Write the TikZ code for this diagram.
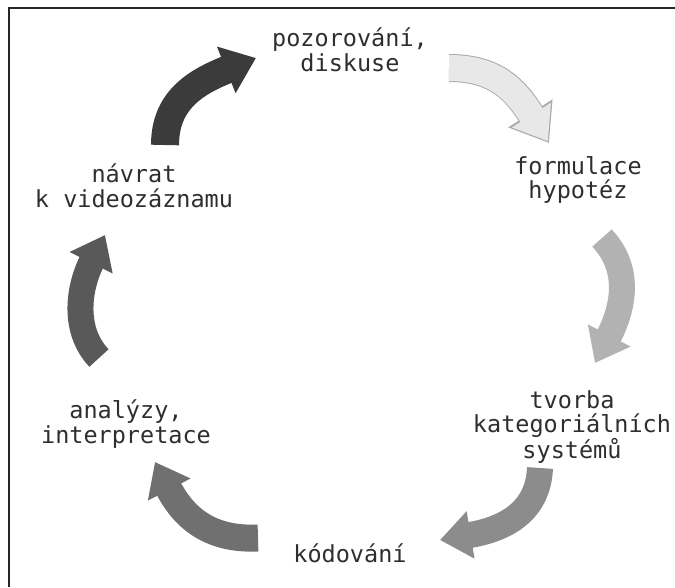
\documentclass[tikz,border=0pt]{standalone}
\usepackage{fontspec}
\setmonofont{DejaVu Sans Mono}
\usepackage{tikz}
\usetikzlibrary{positioning, arrows.meta}

\tikzset{
  lbl/.style={font=\ttfamily\fontsize{23.5}{24.5}\selectfont, align=center, text=black!82},
  cyc/.style={line width=26pt, -{Triangle[width=46pt,length=31pt]}},
}

\begin{document}
\begin{tikzpicture}[x=1pt,y=-1pt]
    \useasboundingbox (0,0) rectangle (675,587);
    % ramecek
    \draw[line width=1.3pt, black!85] (9,587) -- (9,8) -- (675,8);

    % popisky
    \node[lbl] (obs) at (350,50) {pozorování,\\diskuse};
    \node[lbl] (hyp) at (578,180) {formulace\\hypotéz};
    \node[lbl] (cat) at (572,427) {tvorba\\kategoriálních\\systémů};
    \node[lbl] (cod) at (350,553) {kódování};
    \node[lbl] (ana) at (126,424) {analýzy,\\interpretace};
    \node[lbl] (ret) at (134,186) {návrat\\k videozáznamu};

    % konce sipek
    \coordinate (a1) at (165,145);  \coordinate (b1) at (256,58);
    \coordinate (a2) at (449,68);   \coordinate (b2) at (549,143);
    \coordinate (a3) at (602,238);  \coordinate (b3) at (595,363);
    \coordinate (a4) at (540,468);  \coordinate (b4) at (440,540);
    \coordinate (a5) at (258,538);  \coordinate (b5) at (155,462);
    \coordinate (a6) at (99,358);   \coordinate (b6) at (105,235);

    % sipky
    \draw[cyc, line width=28pt, -{Triangle[width=48pt,length=32pt]}, black!77]
        (a1) .. controls (165,100) and (196,82) .. (b1);
    \draw[cyc, line width=28pt, -{Triangle[width=50pt,length=35pt]}, black!33]
        (a2) .. controls (495,68) and (515,89) .. (b2);
    \draw[cyc, -{Triangle[width=44pt,length=31pt]}, black!9, shorten >=2pt]
        (a2) .. controls (495,68) and (515,89) .. (b2);
    \draw[cyc, black!30]
        (a3) .. controls (630,268) and (625,305) .. (b3);
    \draw[cyc, black!45]
        (a4) .. controls (538,515) and (500,530) .. (b4);
    \draw[cyc, line width=27pt, black!56]
        (a5) .. controls (212,540) and (185,520) .. (b5);
    \draw[cyc, black!65]
        (a6) .. controls (74,332) and (77,291) .. (b6);
\end{tikzpicture}
\end{document}
